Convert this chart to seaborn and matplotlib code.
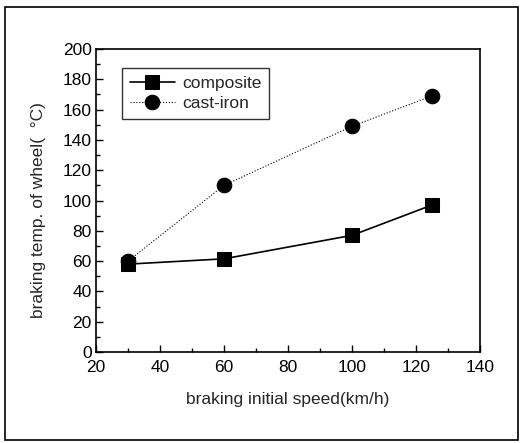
import matplotlib
matplotlib.use("Agg")
import matplotlib.pyplot as plt
import seaborn as sns
import pandas as pd
from matplotlib.patches import Rectangle
from matplotlib.ticker import MultipleLocator

speed = [30, 60, 100, 125]
composite = [58, 61.5, 77, 97]
cast_iron = [60, 110, 149, 169]

sns.set_theme(style="ticks")
plt.rcParams['font.family'] = ['Liberation Sans', 'DejaVu Sans']

fig = plt.figure(figsize=(5.2, 4.43), dpi=100)
ax = fig.add_axes([0.1846, 0.2054, 0.7384, 0.684])

df1 = pd.DataFrame({"x": speed, "y": composite})
df2 = pd.DataFrame({"x": speed, "y": cast_iron})
sns.lineplot(data=df1, x="x", y="y", ax=ax, color="black", lw=1.2, marker="s",
             markersize=10, markeredgecolor="black", label="composite")
sns.lineplot(data=df2, x="x", y="y", ax=ax, color="black", lw=0.8, ls=":", marker="o",
             markersize=10.5, markeredgecolor="black", label="cast-iron")

ax.set_xlim(20, 140)
ax.set_ylim(0, 200)
ax.xaxis.set_major_locator(MultipleLocator(20))
ax.xaxis.set_minor_locator(MultipleLocator(10))
ax.yaxis.set_major_locator(MultipleLocator(20))
ax.yaxis.set_minor_locator(MultipleLocator(10))
ax.tick_params(which="both", direction="in", top=False, right=False, labelsize=12.5, colors="black")
ax.tick_params(axis="x", which="major", pad=6)
ax.tick_params(axis="y", which="major", pad=3)
ax.tick_params(which="major", length=5, width=1)
ax.tick_params(which="minor", length=3, width=1)
for s in ax.spines.values():
    s.set_linewidth(1.2)
    s.set_color("black")
ax.set_xlabel("braking initial speed(km/h)", fontsize=12.5, labelpad=12)
ax.set_ylabel("braking temp. of wheel(  °C)", fontsize=12.5)
ax.yaxis.set_label_coords(-0.13, 0.47)

leg = ax.legend(loc="upper left", bbox_to_anchor=(0.068, 0.937), borderaxespad=0,
                fontsize=12.5, frameon=True, fancybox=False, edgecolor="black",
                handlelength=2.6, borderpad=0.45, labelspacing=0.3, handletextpad=0.4)
leg.get_frame().set_linewidth(1.0)

fig.patches.append(Rectangle((5/520, 1 - 440/443), 513/520, 433/443, transform=fig.transFigure,
                             fill=False, edgecolor="black", lw=1.2))

fig.savefig("out.png", dpi=100)
